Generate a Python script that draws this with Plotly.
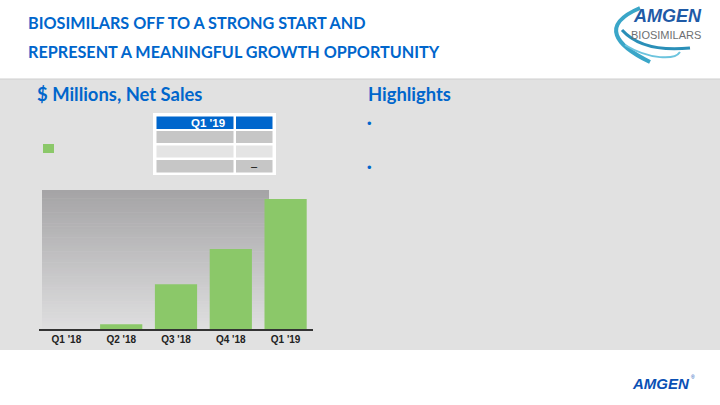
import plotly.graph_objects as go

# ---- data ----
quarters = ["Q1 '18", "Q2 '18", "Q3 '18", "Q4 '18", "Q1 '19"]
net_sales = [0, 4.7, 44.7, 80, 130]
table_header = ["Q1 '19", ""]
table_col1 = ["", "", ""]
table_col2 = ["", "", "–"]

W, H = 720, 405
BLUE = "#0066cc"
GREEN = "#8bc869"


def px(x):
    return x / W


def py(y):
    return 1 - y / H


fig = go.Figure()

fig.add_trace(go.Bar(
    x=quarters, y=net_sales, marker=dict(color=GREEN, line=dict(width=0)),
    width=0.77, showlegend=False, hoverinfo="skip",
))

shapes = []
# gray panel
shapes.append(dict(type="rect", xref="paper", yref="paper", x0=0, x1=1,
                   y0=py(350), y1=py(79), fillcolor="#e1e1e1",
                   line=dict(width=0), layer="below"))
shapes.append(dict(type="line", xref="paper", yref="paper", x0=0, x1=1,
                   y0=py(79), y1=py(79), line=dict(color="#cfcfcf", width=1),
                   layer="below"))
# gradient block behind bars
n = 50
top, bot = 190, 329
c_top = (165, 164, 166)
c_bot = (222, 222, 223)
for i in range(n):
    t = i / (n - 1)
    c = tuple(int(round(c_top[k] + (c_bot[k] - c_top[k]) * t)) for k in range(3))
    y0 = top + (bot - top) * i / n
    y1 = top + (bot - top) * (i + 1) / n
    shapes.append(dict(type="rect", xref="paper", yref="paper",
                       x0=px(42), x1=px(269), y0=py(y1 + 0.5), y1=py(y0),
                       fillcolor="rgb(%d,%d,%d)" % c, line=dict(width=0),
                       layer="below"))

# table (built from the table lists)
shapes.append(dict(type="rect", xref="paper", yref="paper", x0=px(153), x1=px(276),
                   y0=py(175), y1=py(113), fillcolor="white", line=dict(width=0),
                   layer="below"))
col_edges = [(156.5, 233.5), (236, 272.5)]
row_edges = [(116.5, 129), (131, 143), (145.5, 157.5), (160, 172.5)]
row_fill = [BLUE, "#c6c6c6", "#e4e4e4", "#c6c6c6"]
table_cols = [[table_header[0]] + table_col1, [table_header[1]] + table_col2]
ann = []
for ci, (xa, xb) in enumerate(col_edges):
    for ri, (ya, yb) in enumerate(row_edges):
        shapes.append(dict(type="rect", xref="paper", yref="paper",
                           x0=px(xa), x1=px(xb), y0=py(yb), y1=py(ya),
                           fillcolor=row_fill[ri], line=dict(width=0), layer="below"))
        txt = table_cols[ci][ri]
        if txt:
            if ri == 0:
                ann.append(dict(text=txt, x=px(xb - 7), y=py((ya + yb) / 2),
                                xref="paper", yref="paper", xanchor="right",
                                yanchor="middle", showarrow=False,
                                font=dict(family="Arial", size=11.5, color="white",
                                          weight="bold")))
            else:
                ann.append(dict(text=txt, x=px((xa + xb) / 2), y=py((ya + yb) / 2),
                                xref="paper", yref="paper", xanchor="center",
                                yanchor="middle", showarrow=False,
                                font=dict(family="Arial", size=11, color="black")))

# legend swatch
shapes.append(dict(type="rect", xref="paper", yref="paper", x0=px(43), x1=px(54),
                   y0=py(153), y1=py(144), fillcolor=GREEN, line=dict(width=0)))
# logo swooshes
shapes.append(dict(type="path", xref="paper", yref="paper",
                   path="M %f,%f C %f,%f %f,%f %f,%f" % (
                       px(640), py(8), px(600), py(25), px(615), py(45), px(650), py(62)),
                   line=dict(color="#3aa6c8", width=4)))
shapes.append(dict(type="path", xref="paper", yref="paper",
                   path="M %f,%f C %f,%f %f,%f %f,%f" % (
                       px(622), py(30), px(640), py(50), px(670), py(50), px(690), py(48)),
                   line=dict(color="#2a8fb8", width=3)))
shapes.append(dict(type="path", xref="paper", yref="paper",
                   path="M %f,%f C %f,%f %f,%f %f,%f" % (
                       px(625), py(45), px(650), py(60), px(675), py(60), px(680), py(52)),
                   line=dict(color="#6cc4de", width=2)))


def note(text, x, y, xa, ya, font):
    return dict(text=text, x=px(x), y=py(y), xref="paper", yref="paper",
                xanchor=xa, yanchor=ya, showarrow=False, font=font)


title_font = dict(family="Lato", size=16.2, color=BLUE, weight="bold")
ann.append(note("BIOSIMILARS OFF TO A STRONG START AND", 26, 34, "left", "bottom", title_font))
ann.append(note("REPRESENT A MEANINGFUL GROWTH OPPORTUNITY", 26, 63, "left", "bottom", title_font))
sub_font = dict(family="Lato", size=18.4, color=BLUE, weight="bold")
ann.append(note("$ Millions, Net Sales", 35, 107, "left", "bottom", sub_font))
ann.append(note("Highlights", 366, 107, "left", "bottom", sub_font))
for yb in (123, 167):
    ann.append(note("•", 370, yb, "center", "middle",
                    dict(family="Arial", size=13, color=BLUE)))
# top logo
ann.append(note("<i>AMGEN</i>", 667, 16, "center", "middle",
                dict(family="Arial", size=18, color="#1f5aa6", weight="bold")))
ann.append(note("BIOSIMILARS", 666, 35, "center", "middle",
                dict(family="Arial", size=11, color="#6d6f72")))
# bottom logo
ann.append(note("<i>AMGEN</i>", 661, 383, "center", "middle",
                dict(family="Arial", size=15, color="#0a50b4", weight="bold")))
ann.append(note("®", 693, 377, "center", "middle",
                dict(family="Arial", size=5, color="#0a50b4")))

fig.update_layout(
    width=W, height=H, margin=dict(l=0, r=0, t=0, b=0),
    paper_bgcolor="white", plot_bgcolor="rgba(0,0,0,0)",
    shapes=shapes, annotations=ann, bargap=0.23,
    xaxis=dict(domain=[px(39), px(313)], showline=True, linecolor="#333333",
               linewidth=1.5, ticks="", showgrid=False, zeroline=False,
               tickfont=dict(family="Arial", size=10, color="#222222", weight="bold"),
               fixedrange=True),
    yaxis=dict(domain=[py(329), py(190)], range=[0, 139], visible=False,
               showgrid=False, zeroline=False, fixedrange=True),
    showlegend=False,
)

fig.write_html("out.html")
